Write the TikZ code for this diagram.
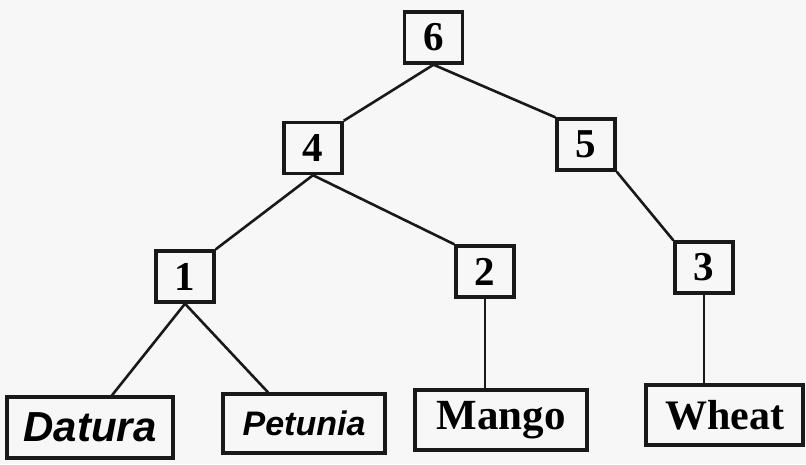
\documentclass[tikz,border=0pt]{standalone}
\usepackage{fontspec}
\setmainfont{Liberation Serif}
\newfontfamily\leafsans{Liberation Sans}
\begin{document}
\begin{tikzpicture}[x=1pt,y=-1pt,
  numbox/.style={draw=black!90, line width=3.4pt, minimum width=58pt, minimum height=51pt, inner sep=0pt,
    font=\fontsize{41}{41}\selectfont\bfseries},
  leafbox/.style={draw=black!90, line width=3.4pt, inner sep=0pt},
  link/.style={draw=black!90, line width=2.6pt}]
\fill[black!3] (0,0) rectangle (806,464);
\useasboundingbox (0,0) rectangle (806,464);
\node[numbox] (n6) at (433.5,37.5) {6};
\node[numbox] (n4) at (313,148) {4};
\node[numbox] (n5) at (586,144.5) {5};
\node[numbox] (n1) at (185,276.5) {1};
\node[numbox] (n2) at (485,271.5) {2};
\node[numbox] (n3) at (704,267.5) {3};
\node[leafbox, minimum width=166pt, minimum height=61pt, font=\leafsans\fontsize{42}{42}\selectfont\bfseries\itshape] (dat) at (90,427.5) {Datura};
\node[leafbox, minimum width=162pt, minimum height=59pt, font=\leafsans\fontsize{34}{34}\selectfont\bfseries\itshape] (pet) at (304,423.5) {Petunia};
\node[leafbox, minimum width=172pt, minimum height=60pt, font=\fontsize{43}{43}\selectfont\bfseries] (man) at (501,420) {Mango};
\node[leafbox, minimum width=157pt, minimum height=60pt, font=\fontsize{42}{42}\selectfont\bfseries] (whe) at (724.5,415) {Wheat};
\draw[link] (n6.south) -- (n4.north east);
\draw[link] (n6.south) -- (n5.north west);
\draw[link] (n4.south) -- (n1.north east);
\draw[link] (n4.south) -- (n2.north west);
\draw[link] (n5.south east) -- (n3.north west);
\draw[link] (n1.south) -- ([xshift=22pt]dat.north);
\draw[link] (n1.south) -- ([xshift=-36pt]pet.north);
\draw[link] (n2.south) -- (n2.south |- man.north);
\draw[link] (n3.south) -- (n3.south |- whe.north);
\end{tikzpicture}
\end{document}
